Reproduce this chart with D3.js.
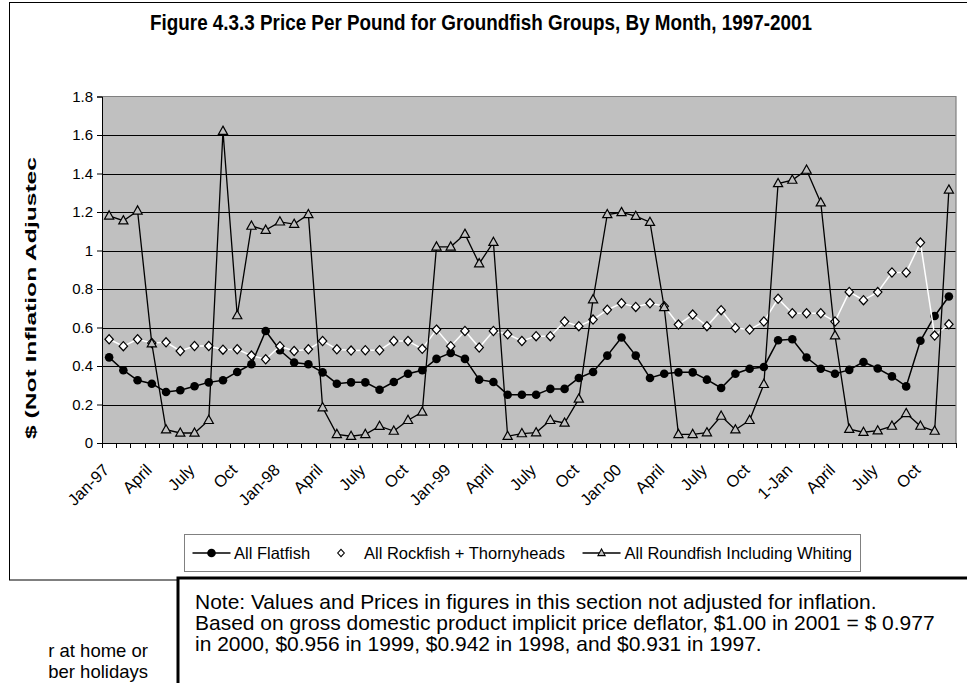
<!DOCTYPE html>
<html><head><meta charset="utf-8">
<script src="https://cdn.jsdelivr.net/npm/d3@7"></script>
<style>
html,body{margin:0;padding:0;background:#fff;overflow:hidden}
text{font-family:"Liberation Sans",Arial,sans-serif}
</style></head>
<body>
<svg id="c" width="967" height="683"></svg>
<script>
// ---------- DATA ----------
const years = ["97","98","99","00","01"];
const monthNames = ["Jan","Feb","Mar","Apr","May","Jun","Jul","Aug","Sep","Oct","Nov","Dec"];
const categories = [];
years.forEach(y => monthNames.forEach(m => categories.push(m + "-" + y)));

const xTickLabels = ["Jan-97","April","July","Oct","Jan-98","April","July","Oct","Jan-99","April","July","Oct","Jan-00","April","July","Oct","1-Jan","April","July","Oct"];

const flatfish = [0.445,0.378,0.326,0.308,0.265,0.274,0.295,0.315,0.326,0.369,0.409,0.582,
  0.482,0.418,0.409,0.367,0.308,0.315,0.315,0.277,0.317,0.360,0.378,0.437,
  0.468,0.437,0.329,0.317,0.251,0.251,0.251,0.281,0.281,0.338,0.369,0.454,
  0.548,0.454,0.338,0.360,0.367,0.367,0.329,0.286,0.360,0.386,0.395,0.534,
  0.539,0.444,0.386,0.360,0.380,0.421,0.387,0.346,0.294,0.531,0.660,0.761];

const rockfish = [0.539,0.503,0.539,0.520,0.523,0.478,0.504,0.504,0.485,0.487,0.454,0.435,
  0.503,0.478,0.487,0.530,0.487,0.480,0.482,0.482,0.530,0.530,0.489,0.589,
  0.503,0.582,0.496,0.582,0.565,0.530,0.555,0.555,0.631,0.607,0.641,0.692,
  0.726,0.707,0.726,0.711,0.615,0.667,0.607,0.690,0.598,0.589,0.631,0.749,
  0.674,0.674,0.674,0.631,0.785,0.742,0.784,0.886,0.886,1.041,0.558,0.617];

const roundfish = [1.180,1.155,1.206,0.516,0.069,0.052,0.052,0.118,1.620,0.662,1.127,1.106,
  1.149,1.137,1.187,0.184,0.045,0.035,0.045,0.087,0.062,0.118,0.161,1.019,
  1.019,1.085,0.932,1.043,0.035,0.049,0.054,0.118,0.104,0.229,0.745,1.187,
  1.198,1.178,1.147,0.704,0.045,0.045,0.054,0.140,0.069,0.118,0.305,1.348,
  1.366,1.418,1.248,0.558,0.072,0.056,0.064,0.088,0.154,0.088,0.062,1.315];

const seriesNames = ["All Flatfish","All Rockfish + Thornyheads","All Roundfish Including Whiting"];
const yTicks = [0,0.2,0.4,0.6,0.8,1,1.2,1.4,1.6,1.8];
const yTickLabels = ["0","0.2","0.4","0.6","0.8","1","1.2","1.4","1.6","1.8"];

const title = "Figure 4.3.3 Price Per Pound for Groundfish Groups, By Month, 1997-2001";
const yTitle = "$ (Not Inflation Adjustec";
const noteLines = ["Note: Values and Prices in figures in this section not adjusted for inflation.",
  "Based on gross domestic product implicit price deflator, $1.00 in 2001 = $ 0.977",
  "in 2000, $0.956 in 1999, $0.942 in 1998, and $0.931 in 1997."];
const sideLines = ["r at home or","ber holidays"];

// ---------- DRAW ----------
const svg = d3.select("#c");
const L = 102, R = 956, T = 96.5, B = 443;

function fit(sel, target){
  const w = sel.node().getComputedTextLength();
  const fs = parseFloat(sel.attr("font-size"));
  sel.attr("font-size", (fs * target / w).toFixed(2));
}

// outer chart border
svg.append("rect").attr("x",9.5).attr("y",2.5).attr("width",1000).attr("height",577.5)
  .attr("fill","#fff").attr("stroke","#000").attr("stroke-width",1);

// title (slightly tall glyphs as in the stretched original)
const tt = svg.append("text").attr("text-anchor","middle")
  .attr("transform","translate(481,30) scale(1,1.15)")
  .attr("font-size",15).attr("font-weight","bold").text(title);
fit(tt, 662);

const x = d3.scaleBand().domain(categories).range([L,R]).paddingInner(0).paddingOuter(0);
const y = d3.scaleLinear().domain([0,1.8]).range([B,T]);
const bw = x.bandwidth();
const cx = c => x(c) + bw/2;

// plot area
svg.append("rect").attr("x",L).attr("y",T).attr("width",R-L).attr("height",B-T).attr("fill","#C0C0C0");
// gridlines
svg.append("g").selectAll("line").data(yTicks.filter(v=>v>0 && v<1.8)).join("line")
  .attr("x1",L).attr("x2",R).attr("y1",d=>Math.round(y(d))+0.5).attr("y2",d=>Math.round(y(d))+0.5)
  .attr("stroke","#000").attr("stroke-width",1);
// plot border top/right
svg.append("path").attr("d",`M${L},${T}H${R}V${B}`).attr("fill","none").attr("stroke","#808080").attr("stroke-width",1.2);

// y axis
const yAxis = d3.axisLeft(y).tickValues(yTicks).tickSize(5).tickPadding(4)
  .tickFormat((d,i)=>yTickLabels[i]);
const gy = svg.append("g").attr("transform",`translate(${L},0)`).call(yAxis);
gy.select(".domain").attr("stroke","#000");
gy.selectAll(".tick line").attr("stroke","#000");
gy.selectAll("text").attr("font-size",15).attr("font-family","Liberation Sans, Arial, sans-serif").attr("fill","#000");

// x axis line and ticks
svg.append("line").attr("x1",L).attr("x2",R).attr("y1",B+0.5).attr("y2",B+0.5).attr("stroke","#000");
const edges = categories.map(c=>x(c)).concat([x(categories[categories.length-1])+bw]);
svg.append("g").selectAll("line").data(edges).join("line")
  .attr("x1",d=>Math.round(d)+0.5).attr("x2",d=>Math.round(d)+0.5).attr("y1",B).attr("y2",B+5)
  .attr("stroke","#000");
// x labels
const labelCats = categories.filter((c,i)=>i%3===0);
svg.append("g").selectAll("text").data(labelCats).join("text")
  .attr("transform",c=>`translate(${cx(c)-3},${B+24}) rotate(-45)`)
  .attr("text-anchor","end").attr("dy","0.35em").attr("font-size",16.5)
  .text((c,i)=>xTickLabels[i]);

// y title
svg.append("text").attr("transform","translate(36,439) rotate(-90)")
  .attr("text-anchor","start").attr("font-size",15).attr("font-weight","bold")
  .attr("textLength",282).attr("lengthAdjust","spacingAndGlyphs").text(yTitle);

// series
const line = d3.line().x((d,i)=>cx(categories[i])).y(d=>y(d));
const triPath = "M0,-5L4.6,3.2L-4.6,3.2Z";
const diaPath = "M0,-4.6L4.2,0L0,4.6L-4.2,0Z";

// flatfish
svg.append("path").datum(flatfish).attr("d",line).attr("fill","none").attr("stroke","#000").attr("stroke-width",1.5);
svg.append("g").selectAll("circle").data(flatfish).join("circle")
  .attr("cx",(d,i)=>cx(categories[i])).attr("cy",d=>y(d)).attr("r",4.3).attr("fill","#000");
// rockfish
svg.append("path").datum(rockfish).attr("d",line).attr("fill","none").attr("stroke","#fff").attr("stroke-width",1.5);
svg.append("g").selectAll("path").data(rockfish).join("path")
  .attr("transform",(d,i)=>`translate(${cx(categories[i])},${y(d)})`).attr("d",diaPath)
  .attr("fill","#fff").attr("stroke","#000").attr("stroke-width",1.2);
// roundfish
svg.append("path").datum(roundfish).attr("d",line).attr("fill","none").attr("stroke","#000").attr("stroke-width",1.3);
svg.append("g").selectAll("path").data(roundfish).join("path")
  .attr("transform",(d,i)=>`translate(${cx(categories[i])},${y(d)})`).attr("d",triPath)
  .attr("fill","#C0C0C0").attr("stroke","#000").attr("stroke-width",1.2);

// legend
const lgX0 = 184.5, lgX1 = 860.5, lgY0 = 534.5, lgY1 = 571.5, lgMid = 553;
svg.append("rect").attr("x",lgX0).attr("y",lgY0).attr("width",lgX1-lgX0).attr("height",lgY1-lgY0)
  .attr("fill","#fff").attr("stroke","#808080").attr("stroke-width",1);
const lg = svg.append("g");
const symW = 38, gap = 4;
// entry 1
lg.append("line").attr("x1",192.5).attr("x2",192.5+symW).attr("y1",lgMid).attr("y2",lgMid).attr("stroke","#000").attr("stroke-width",1.5);
lg.append("circle").attr("cx",211.5).attr("cy",lgMid).attr("r",4.3).attr("fill","#000");
lg.append("text").attr("x",234).attr("y",lgMid+6).attr("font-size",16.5).text(seriesNames[0]);
// entry 2
lg.append("path").attr("transform",`translate(341,${lgMid})`).attr("d","M0,-3.6L3.3,0L0,3.6L-3.3,0Z")
  .attr("fill","#fff").attr("stroke","#000").attr("stroke-width",1.1);
lg.append("text").attr("x",364).attr("y",lgMid+6).attr("font-size",16.5).text(seriesNames[1]);
// entry 3 (text right-aligned inside box)
const t3 = lg.append("text").attr("x",852).attr("y",lgMid+6).attr("text-anchor","end").attr("font-size",16.5).text(seriesNames[2]);
const t3w = t3.node().getComputedTextLength();
const s3 = 852 - t3w - gap - symW;
lg.append("line").attr("x1",s3).attr("x2",s3+symW).attr("y1",lgMid).attr("y2",lgMid).attr("stroke","#000").attr("stroke-width",1.3);
lg.append("path").attr("transform",`translate(${s3+symW/2},${lgMid})`).attr("d","M0,-4L3.6,2.6L-3.6,2.6Z")
  .attr("fill","#C0C0C0").attr("stroke","#000").attr("stroke-width",1.1);

// note box
svg.append("rect").attr("x",178).attr("y",578).attr("width",900).attr("height",200)
  .attr("fill","#fff").attr("stroke","#000").attr("stroke-width",3);
const nl = noteLines.map((s,i)=>svg.append("text").attr("x",195).attr("y",609+i*21).attr("font-size",16).text(s));
const w1 = nl[1].node().getComputedTextLength();
const nfs = (16*740/w1).toFixed(2);
nl.forEach(t=>t.attr("font-size",nfs));

// side text (partially visible paragraph)
sideLines.forEach((s,i)=>svg.append("text").attr("x",148).attr("y",657+i*21)
  .attr("text-anchor","end").attr("font-size",18.5).text(s));
</script>
</body></html>
